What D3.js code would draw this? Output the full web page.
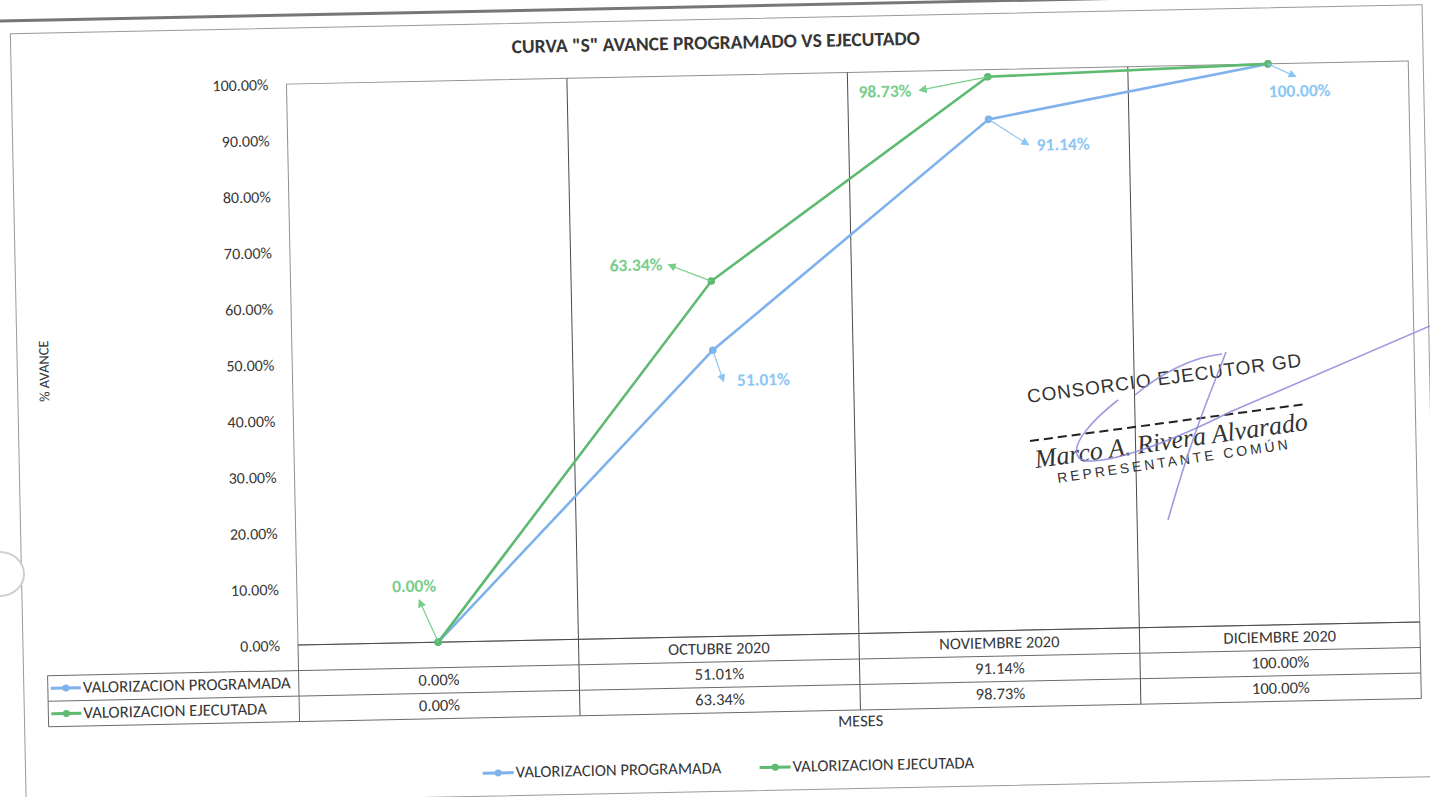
<!DOCTYPE html>
<html>
<head>
<meta charset="utf-8">
<script src="https://cdn.jsdelivr.net/npm/d3@7"></script>
<style>
  body { margin: 0; background: #fff; }
  svg { display: block; }
  text { font-family: Carlito, Calibri, Lato, "Open Sans", sans-serif; fill: #363636; }
</style>
</head>
<body>
<svg width="1430" height="797"></svg>
<script>
// chart values
var categories = ["", "OCTUBRE 2020", "NOVIEMBRE 2020", "DICIEMBRE 2020"];
var programada = [0, 0.5101, 0.9114, 1.0];
var ejecutada = [0, 0.6334, 0.9873, 1.0];
var yTicks = [0, 0.1, 0.2, 0.3, 0.4, 0.5, 0.6, 0.7, 0.8, 0.9, 1.0];
var seriesNames = ["VALORIZACION PROGRAMADA", "VALORIZACION EJECUTADA"];

var svg = d3.select("svg");
var fmt = d3.format(".2%");

var plot = { left: 298, right: 1420, top: 84, bottom: 645 };
var rowH = 25.5;

var blue = "#7fb1ec", green = "#5dba70";
var blueLbl = "#8cc6f4", greenLbl = "#78cd8b";

var series = [
    { name: seriesNames[0], values: programada, color: blue, label: blueLbl },
    { name: seriesNames[1], values: ejecutada, color: green, label: greenLbl }
];

// label placement (offsets from the point) for the visible data labels
var labels = [
    { s: 1, i: 0, dx: -23, dy: -55, ax: -18, ay: -42 },
    { s: 1, i: 1, dx: -75, dy: -16, ax: -42, ay: -17 },
    { s: 1, i: 2, dx: -103, dy: 14, ax: -68, ay: 12 },
    { s: 0, i: 1, dx: 50, dy: 32, ax: 10, ay: 31 },
    { s: 0, i: 2, dx: 74, dy: 28, ax: 39, ay: 26 },
    { s: 0, i: 3, dx: 31, dy: 29, ax: 27, ay: 13 }
];

var x = d3.scaleBand().domain(d3.range(categories.length)).range([plot.left, plot.right]);
var y = d3.scaleLinear().domain([0, 1]).range([plot.bottom, plot.top]);

var defs = svg.append("defs");
series.forEach(function(s, k) {
    defs.append("marker")
        .attr("id", "arr" + k)
        .attr("viewBox", "0 0 10 10")
        .attr("refX", 8).attr("refY", 5)
        .attr("markerWidth", 7).attr("markerHeight", 7)
        .attr("orient", "auto-start-reverse")
        .append("path")
        .attr("d", "M0,0 L10,5 L0,10 z")
        .attr("fill", s.label);
});

// scanned page edge
svg.append("line")
    .attr("x1", 0).attr("y1", 21).attr("x2", 1430).attr("y2", -8)
    .attr("stroke", "#777").attr("stroke-width", 3);

var g = svg.append("g").attr("transform", "rotate(-1.18,298,645)");

// chart area
g.append("rect")
    .attr("x", 23).attr("y", 28).attr("width", 1412).attr("height", 772)
    .attr("fill", "#fff").attr("stroke", "#9a9a9a");

g.append("text")
    .attr("x", 728).attr("y", 53)
    .attr("text-anchor", "middle").attr("dominant-baseline", "middle")
    .style("font-size", "19.5px").style("font-weight", "bold")
    .text('CURVA "S" AVANCE PROGRAMADO VS EJECUTADO');

// plot area
g.append("rect")
    .attr("x", plot.left).attr("y", plot.top)
    .attr("width", plot.right - plot.left).attr("height", plot.bottom - plot.top)
    .attr("fill", "none").attr("stroke", "#8e8e8e");

var tableBottom = plot.bottom + 3 * rowH;

// category gridlines, running through the data table
g.selectAll(".grid")
    .data(d3.range(1, categories.length))
    .enter().append("line")
    .attr("class", "grid")
    .attr("x1", function(i) { return x(i); })
    .attr("x2", function(i) { return x(i); })
    .attr("y1", plot.top).attr("y2", tableBottom)
    .attr("stroke", "#4a4a4a");

// y axis
var yAxis = g.append("g")
    .attr("transform", "translate(" + plot.left + ",0)")
    .call(d3.axisLeft(y).tickValues(yTicks).tickFormat(fmt).tickSize(0).tickPadding(18));
yAxis.select(".domain").remove();
yAxis.selectAll("text")
    .style("font-size", "16px")
    .style("font-family", "Carlito, Calibri, Lato, sans-serif")
    .attr("fill", "#363636");

g.append("text")
    .attr("transform", "translate(51,366) rotate(-90)")
    .attr("text-anchor", "middle").attr("dominant-baseline", "middle")
    .style("font-size", "14.5px")
    .text("% AVANCE");

// data table
var tbl = g.append("g").attr("class", "table");
var tLeft = 47;
tbl.append("line")
    .attr("x1", plot.left).attr("x2", plot.right)
    .attr("y1", plot.bottom).attr("y2", plot.bottom)
    .attr("stroke", "#4a4a4a");
[1, 2, 3].forEach(function(r) {
    tbl.append("line")
        .attr("x1", tLeft).attr("x2", plot.right)
        .attr("y1", plot.bottom + r * rowH).attr("y2", plot.bottom + r * rowH)
        .attr("stroke", "#6a6a6a");
});
tbl.append("line")
    .attr("x1", tLeft).attr("x2", tLeft)
    .attr("y1", plot.bottom + rowH).attr("y2", tableBottom)
    .attr("stroke", "#6a6a6a");
[plot.left, plot.right].forEach(function(px) {
    tbl.append("line")
        .attr("x1", px).attr("x2", px)
        .attr("y1", plot.bottom).attr("y2", tableBottom)
        .attr("stroke", "#6a6a6a");
});

tbl.selectAll(".cat")
    .data(categories)
    .enter().append("text")
    .attr("class", "cat")
    .attr("x", function(d, i) { return x(i) + x.bandwidth() / 2; })
    .attr("y", plot.bottom + rowH / 2 + 1)
    .attr("text-anchor", "middle").attr("dominant-baseline", "middle")
    .style("font-size", "16.5px")
    .text(function(d) { return d; });

series.forEach(function(s, k) {
    var cy = plot.bottom + (k + 1.5) * rowH;
    tbl.selectAll(".val" + k)
        .data(s.values)
        .enter().append("text")
        .attr("x", function(d, i) { return x(i) + x.bandwidth() / 2; })
        .attr("y", cy + 1)
        .attr("text-anchor", "middle").attr("dominant-baseline", "middle")
        .style("font-size", "16.5px")
        .text(function(d) { return fmt(d); });
    tbl.append("line")
        .attr("x1", tLeft + 3).attr("x2", tLeft + 33)
        .attr("y1", cy).attr("y2", cy)
        .attr("stroke", s.color).attr("stroke-width", 3);
    tbl.append("circle")
        .attr("cx", tLeft + 18).attr("cy", cy).attr("r", 3.5)
        .attr("fill", s.color);
    tbl.append("text")
        .attr("x", tLeft + 35).attr("y", cy + 1)
        .attr("dominant-baseline", "middle")
        .style("font-size", "16.8px")
        .text(s.name);
});

g.append("text")
    .attr("x", (plot.left + plot.right) / 2).attr("y", 734)
    .attr("text-anchor", "middle").attr("dominant-baseline", "middle")
    .style("font-size", "16.5px")
    .text("MESES");

// lines
var line = d3.line()
    .x(function(d, i) { return x(i) + x.bandwidth() / 2; })
    .y(function(d) { return y(d); });

series.forEach(function(s, k) {
    g.append("path")
        .attr("d", line(s.values))
        .attr("fill", "none")
        .attr("stroke", s.color)
        .attr("stroke-width", 2.6);
    g.selectAll(".pt" + k)
        .data(s.values)
        .enter().append("circle")
        .attr("cx", function(d, i) { return x(i) + x.bandwidth() / 2; })
        .attr("cy", function(d) { return y(d); })
        .attr("r", 3.8)
        .attr("fill", s.color);
});

// data labels with leader arrows
labels.forEach(function(l) {
    var s = series[l.s];
    var px = x(l.i) + x.bandwidth() / 2, py = y(s.values[l.i]);
    g.append("line")
        .attr("x1", px).attr("y1", py)
        .attr("x2", px + l.ax).attr("y2", py + l.ay)
        .attr("stroke", s.label).attr("stroke-width", 1.2)
        .attr("marker-end", "url(#arr" + l.s + ")");
    g.append("text")
        .attr("x", px + l.dx).attr("y", py + l.dy)
        .attr("text-anchor", "middle").attr("dominant-baseline", "middle")
        .style("font-size", "17.5px").style("font-weight", "bold")
        .attr("fill", s.label).style("fill", s.label)
        .text(fmt(s.values[l.i]));
});

// legend
var legendX = [480, 757];
series.forEach(function(s, k) {
    var lg = g.append("g").attr("transform", "translate(" + legendX[k] + ",777)");
    lg.append("line").attr("x1", 0).attr("x2", 31)
        .attr("stroke", s.color).attr("stroke-width", 3);
    lg.append("circle").attr("cx", 15.5).attr("r", 3.5).attr("fill", s.color);
    lg.append("text").attr("x", 33).attr("y", 1)
        .attr("dominant-baseline", "middle")
        .style("font-size", "16.6px")
        .text(s.name);
});

// stamp and signature over the chart
var stamp = svg.append("g");
stamp.append("text")
    .attr("transform", "translate(1028,403) rotate(-7.6)")
    .style("font-family", "'Liberation Sans', Arial, sans-serif")
    .style("font-size", "19px").style("letter-spacing", "0.9px")
    .attr("fill", "#333").style("fill", "#333")
    .text("CONSORCIO EJECUTOR GD");
stamp.append("line")
    .attr("x1", 1030).attr("y1", 441).attr("x2", 1306).attr("y2", 404)
    .attr("stroke", "#222").attr("stroke-width", 2)
    .attr("stroke-dasharray", "9,5");
stamp.append("text")
    .attr("transform", "translate(1036,468) rotate(-8)")
    .style("font-family", "'Liberation Serif', 'DejaVu Serif', serif")
    .style("font-style", "italic")
    .style("font-size", "26px")
    .attr("fill", "#333").style("fill", "#333")
    .text("Marco A. Rivera Alvarado");
stamp.append("text")
    .attr("transform", "translate(1058,483) rotate(-8.4)")
    .style("font-family", "'Liberation Sans', Arial, sans-serif")
    .style("font-size", "14px").style("letter-spacing", "3px")
    .attr("fill", "#333").style("fill", "#333")
    .text("REPRESENTANTE COMÚN");

var sigColor = "#8c88d8";
[
    "M1118,400 C1095,418 1068,445 1079,458 C1092,468 1150,452 1230,412 L1430,326",
    "M1226,352 C1214,385 1195,425 1168,520",
    "M1135,395 C1160,374 1192,357 1222,354"
].forEach(function(d) {
    stamp.append("path").attr("d", d)
        .attr("fill", "none").attr("stroke", sigColor)
        .attr("stroke-width", 1.6).attr("opacity", 0.85);
});

// punch-hole shadow at the left edge
svg.append("path")
    .attr("d", "M0,552 A24,22 0 0 1 0,596")
    .attr("fill", "#fff").attr("stroke", "#cfcfcf").attr("stroke-width", 2);
</script>
</body>
</html>
